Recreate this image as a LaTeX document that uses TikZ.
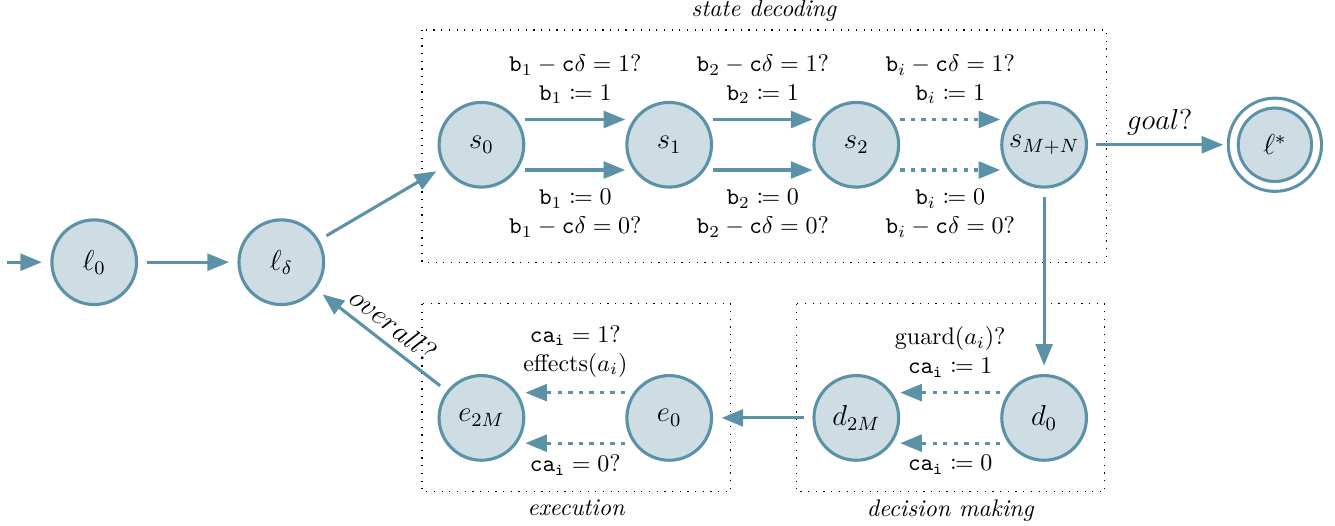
\documentclass[tikz,border=0pt]{standalone}
\usepackage{mathtools}
\usetikzlibrary{arrows.meta}
\definecolor{edgeblue}{RGB}{92,146,168}
\definecolor{fillblue}{RGB}{206,221,228}

\begin{document}
\begin{tikzpicture}[
	state/.style={circle, draw=edgeblue, fill=fillblue, line width=1.3pt, minimum size=1.24cm, inner sep=1pt, font=\large},
	trans/.style={draw=edgeblue, line width=1.3pt, -{Triangle[length=9pt,width=7pt]}, shorten >=3.5pt, shorten <=3.5pt},
	bit/.style={draw=edgeblue, line width=1.3pt, -{Triangle[length=9pt,width=7pt]}},
	dotbit/.style={bit, dash pattern=on 1.8pt off 2.6pt},
	phase/.style={draw, line width=0.5pt, dash pattern=on 0.5pt off 2.7pt}
]
	\useasboundingbox (0,0) rectangle (19.55,-7.69);
	% phase boxes
	\draw[phase] (6.18,-0.44) rectangle (16.20,-3.84);
	\draw[phase] (6.18,-4.45) rectangle (10.70,-7.20);
	\draw[phase] (11.66,-4.45) rectangle (16.18,-7.20);
	\node[above] (decodelbl) at (11.19,-0.44) {\textit{state decoding}};
	\node[below] (execlbl) at (8.44,-7.20) {\textit{execution}};
	\node[below] (decidelbl) at (13.92,-7.20) {\textit{decision making}};
	% states
	\coordinate (init) at (0.10,-3.84);
	\node[state] (l0) at (1.38,-3.84) {$\ell_0$};
	\node[state] (ld) at (4.12,-3.84) {$\ell_\delta$};
	\node[state] (s0) at (7.05,-2.12) {$s_0$};
	\node[state] (s1) at (9.80,-2.12) {$s_1$};
	\node[state] (s2) at (12.54,-2.12) {$s_2$};
	\node[state] (sM) at (15.29,-2.12) {$s_{M+N}$};
	\node[state, minimum size=1.22cm, double, double distance=2.8pt] (lstar) at (18.67,-2.12) {$\ell^*$};
	\node[state] (d0) at (15.29,-6.12) {$d_0$};
	\node[state] (d2M) at (12.54,-6.12) {$d_{2M}$};
	\node[state] (e0) at (9.80,-6.12) {$e_0$};
	\node[state] (e2M) at (7.05,-6.12) {$e_{2M}$};
	% main transitions
	\draw[trans, shorten <=0pt] (init) -- (l0);
	\draw[trans] (l0) -- (ld);
	\draw[trans] (ld) -- (s0);
	\draw[trans] (sM) -- (lstar) node[midway, above] (goallbl) {\large $goal?$};
	\draw[trans] (sM) -- (d0);
	\draw[trans] (d2M) -- (e0);
	\draw[trans] (e2M) -- (ld) node[midway, above, sloped] (overlbl) {\large $overall?$};
	% state decoding
	\draw[bit] ([yshift=.37cm]s0.east) -- ([yshift=.37cm]s1.west)
		node[midway, above=2.5pt, align=center] (b1one) {$\texttt{b}_1 - \texttt{c}\delta = 1?$\\ $\texttt{b}_1 \coloneqq 1$};
	\draw[bit] ([yshift=-.37cm]s0.east) -- ([yshift=-.37cm]s1.west)
		node[midway, below=4pt, align=center] (b1zero) {$\texttt{b}_1 \coloneqq 0$\\ $\texttt{b}_1 - \texttt{c}\delta = 0?$};
	\draw[bit] ([yshift=.37cm]s1.east) -- ([yshift=.37cm]s2.west)
		node[midway, above=2.5pt, align=center] (b2one) {$\texttt{b}_2 - \texttt{c}\delta = 1?$\\ $\texttt{b}_2 \coloneqq 1$};
	\draw[bit] ([yshift=-.37cm]s1.east) -- ([yshift=-.37cm]s2.west)
		node[midway, below=4pt, align=center] (b2zero) {$\texttt{b}_2 \coloneqq 0$\\ $\texttt{b}_2 - \texttt{c}\delta = 0?$};
	\draw[dotbit] ([yshift=.37cm]s2.east) -- ([yshift=.37cm]sM.west)
		node[midway, above=2.5pt, align=center] (bione) {$\texttt{b}_i - \texttt{c}\delta = 1?$\\ $\texttt{b}_i \coloneqq 1$};
	\draw[dotbit] ([yshift=-.37cm]s2.east) -- ([yshift=-.37cm]sM.west)
		node[midway, below=4pt, align=center] (bizero) {$\texttt{b}_i \coloneqq 0$\\ $\texttt{b}_i - \texttt{c}\delta = 0?$};
	% decision making
	\draw[dotbit] ([yshift=.37cm]d0.west) -- ([yshift=.37cm]d2M.east)
		node[midway, above=2.5pt, align=center] (guardlbl) {$\mathrm{guard}(a_i)?$\\ $\mathtt{ca}_\mathtt{i} \coloneqq 1$};
	\draw[dotbit] ([yshift=-.37cm]d0.west) -- ([yshift=-.37cm]d2M.east)
		node[midway, below=1pt] (nocalbl) {$\mathtt{ca}_\mathtt{i} \coloneqq 0$};
	% execution
	\draw[dotbit] ([yshift=.37cm]e0.west) -- ([yshift=.37cm]e2M.east)
		node[midway, above=2.5pt, align=center] (efflbl) {$\mathtt{ca}_\mathtt{i} = 1?$\\ $\mathrm{effects}(a_i)$};
	\draw[dotbit] ([yshift=-.37cm]e0.west) -- ([yshift=-.37cm]e2M.east)
		node[midway, below=1pt] (skiplbl) {$\mathtt{ca}_\mathtt{i} = 0?$};
\end{tikzpicture}
\end{document}
